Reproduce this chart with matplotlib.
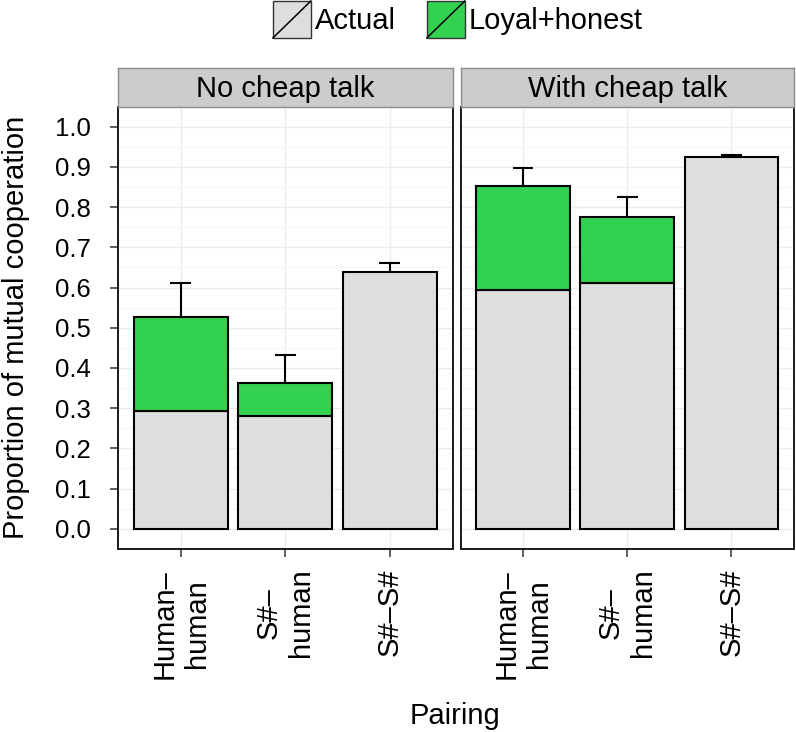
import numpy as np
import matplotlib
matplotlib.use("Agg")
import matplotlib.pyplot as plt
from matplotlib.patches import Patch, Rectangle
from matplotlib.lines import Line2D
from matplotlib.legend_handler import HandlerBase

plt.rcParams['font.family'] = ['Liberation Sans', 'DejaVu Sans']

# data
pairings = ['Human–\nhuman', 'S#–\nhuman', 'S#–S#']
conditions = ['No cheap talk', 'With cheap talk']
actual_no = [0.292, 0.280, 0.638]
total_no = [0.527, 0.363, 0.638]
err_top_no = [0.611, 0.432, 0.662]
actual_with = [0.594, 0.610, 0.925]
total_with = [0.852, 0.775, 0.925]
err_top_with = [0.897, 0.824, 0.930]

GREY = '#DEDEDE'
GREEN = '#32D150'
FS = 21

W, H = 796, 732
fig = plt.figure(figsize=(W / 100, H / 100), dpi=100)


def fx(px):
    return px / W


def fy(px):
    return 1 - px / H


panel_top, panel_bot = 106.6, 548.8
panels = [(118, 452.5), (460.5, 794)]
strip_top = 68.3

series = [(actual_no, total_no, err_top_no), (actual_with, total_with, err_top_with)]

for i, ((x0, x1), cond, (act, tot, err)) in enumerate(zip(panels, conditions, series)):
    ax = fig.add_axes([fx(x0), fy(panel_bot), fx(x1 - x0), (panel_bot - panel_top) / H])
    x = np.arange(len(pairings))
    act = np.array(act)
    tot = np.array(tot)
    err = np.array(err)

    ax.bar(x, act, width=0.9, color=GREY, edgecolor='black', linewidth=1.5, zorder=3)
    extra = tot - act
    keep = extra > 0
    ax.bar(x[keep], extra[keep], bottom=act[keep], width=0.9, color=GREEN,
           edgecolor='black', linewidth=1.5, zorder=3)
    # upper error bars only
    ax.vlines(x, tot, err, color='black', linewidth=1.5, zorder=4)
    ax.hlines(err, x - 0.1, x + 0.1, color='black', linewidth=1.5, zorder=4)

    ax.set_xlim(-0.6, 2.6)
    ax.set_ylim(-0.05, 1.05)
    ax.set_yticks(np.arange(0, 1.01, 0.1))
    ax.set_yticks(np.arange(0.05, 1.0, 0.1), minor=True)
    ax.set_xticks(x)
    ax.set_xticklabels(pairings, rotation=90, ha='center', va='top',
                       multialignment='center', fontsize=FS)
    ax.grid(True, which='major', color='#EBEBEB', linewidth=1.0, zorder=0)
    ax.grid(True, which='minor', axis='y', color='#F5F5F5', linewidth=0.8, zorder=0)
    ax.set_axisbelow(True)
    ax.tick_params(axis='both', which='major', length=5.8, width=1.1, color='#333333')
    ax.tick_params(axis='x', pad=8.5)
    ax.tick_params(axis='y', pad=13.5, labelsize=18.5)
    ax.tick_params(which='minor', length=0)
    for sp in ax.spines.values():
        sp.set_color('#1a1a1a')
        sp.set_linewidth(1.4)
    if i == 0:
        ax.set_yticklabels(['%.1f' % v for v in np.arange(0, 1.01, 0.1)])
    else:
        ax.tick_params(axis='y', left=False, labelleft=False)

    # facet strip
    sx = fig.add_axes([fx(x0), fy(panel_top), fx(x1 - x0), (panel_top - strip_top) / H])
    sx.set_facecolor('#CCCCCC')
    sx.set_xticks([])
    sx.set_yticks([])
    for sp in sx.spines.values():
        sp.set_color('#8C8C8C')
        sp.set_linewidth(1.0)
    sx.text(0.5, 0.45, cond, ha='center', va='center', fontsize=FS, transform=sx.transAxes)

fig.text(fx(16), fy(327), 'Proportion of mutual cooperation',
         rotation=90, ha='center', va='center', fontsize=FS)
fig.text(fx(455), fy(724), 'Pairing', ha='center', va='baseline', fontsize=FS)


class SlashKey(HandlerBase):
    def create_artists(self, legend, orig_handle, xdescent, ydescent, width, height,
                       fontsize, trans):
        rect = Rectangle((-xdescent, -ydescent), width, height,
                         facecolor=orig_handle.get_facecolor(), edgecolor='#333333',
                         linewidth=1.0, transform=trans)
        line = Line2D([-xdescent, -xdescent + width], [-ydescent, -ydescent + height],
                      color='black', linewidth=1.1, transform=trans)
        return [rect, line]


handles = [Patch(facecolor=GREY), Patch(facecolor=GREEN)]
fig.legend(handles, ['Actual', 'Loyal+honest'], loc='center',
           bbox_to_anchor=(fx(458), fy(19.5)), ncol=2, frameon=False,
           fontsize=FS, handlelength=1.30, handleheight=1.57, handletextpad=0.15,
           columnspacing=1.05, borderpad=0,
           handler_map={Patch: SlashKey()})

fig.savefig('out.png', dpi=100)
